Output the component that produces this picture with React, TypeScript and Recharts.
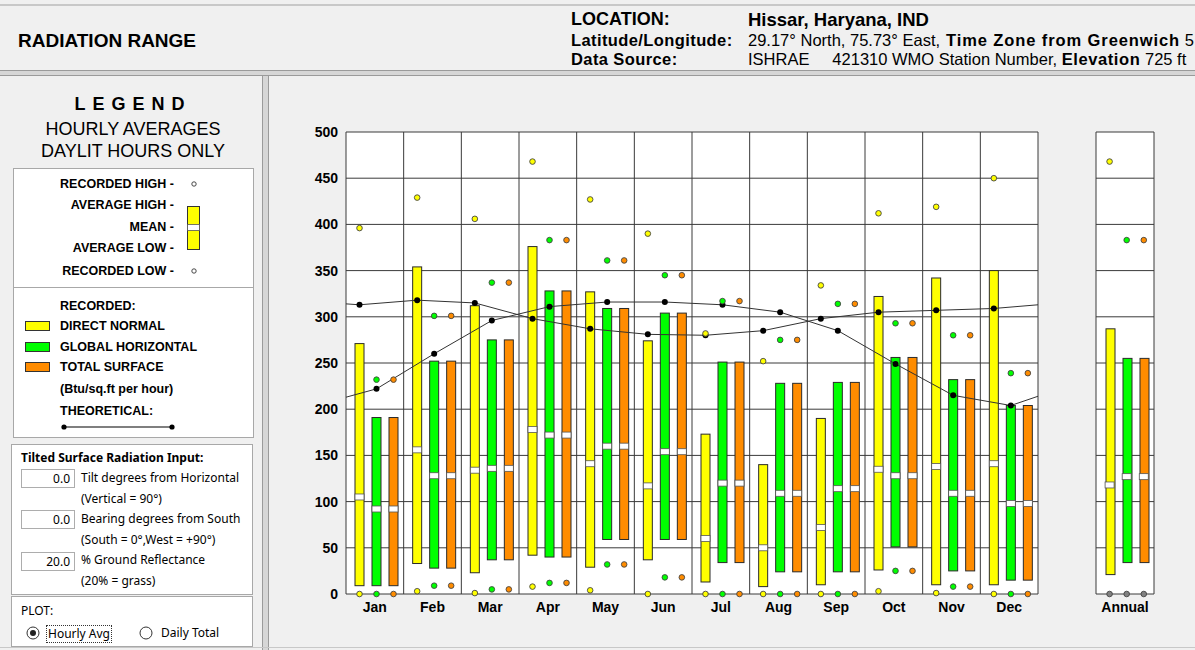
import React from "react";
import { ComposedChart, Bar, Scatter, XAxis, YAxis, CartesianGrid } from "recharts";

const FONT = '"Liberation Sans", Arial, sans-serif';
const UI_FONT = '"Noto Sans", "DejaVu Sans", sans-serif';

const months = ["Jan", "Feb", "Mar", "Apr", "May", "Jun", "Jul", "Aug", "Sep", "Oct", "Nov", "Dec"];
const yTicks = [0, 50, 100, 150, 200, 250, 300, 350, 400, 450, 500];

// direct normal (Btu/sq.ft per hour)
const dnAvgHigh = [271, 354, 312, 376, 327, 274, 173, 140, 190, 322, 342, 350];
const dnAvgLow = [9, 33, 23, 42, 29, 37, 13, 8, 10, 26, 10, 10];
const dnMean = [105, 156, 134, 178, 141, 117, 60, 50, 72, 135, 138, 141];
const dnRecHigh = [396, 429, 406, 468, 427, 390, 282, 252, 334, 412, 419, 450];
const dnRecLow = [0, 3, 1, 8, 4, 0, 0, 0, 0, 3, 1, 0];

// global horizontal
const ghAvgHigh = [191, 252, 275, 328, 309, 304, 251, 228, 229, 256, 232, 204];
const ghAvgLow = [9, 28, 37, 40, 59, 59, 34, 24, 24, 51, 25, 15];
const ghMean = [92, 128, 136, 172, 160, 154, 120, 109, 114, 128, 109, 98];
const ghRecHigh = [232, 301, 337, 383, 361, 345, 317, 275, 314, 293, 280, 239];
const ghRecLow = [0, 9, 5, 12, 32, 18, 0, 0, 0, 25, 8, 0];

// total surface (tilt 0)
const tsAvgHigh = [191, 252, 275, 328, 309, 304, 251, 228, 229, 256, 232, 204];
const tsAvgLow = [9, 28, 37, 40, 59, 59, 34, 24, 24, 51, 25, 15];
const tsMean = [92, 128, 136, 172, 160, 154, 120, 109, 114, 128, 109, 98];
const tsRecHigh = [232, 301, 337, 383, 361, 345, 317, 275, 314, 293, 280, 239];
const tsRecLow = [0, 9, 5, 12, 32, 18, 0, 0, 0, 25, 8, 0];

// theoretical curves, plus the values where they cross the plot edges
const dnTheo = [313, 318, 315, 298, 287, 281, 280, 285, 298, 305, 307, 309];
const dnTheoEdges = [314, 313];
const ghTheo = [222, 260, 296, 311, 316, 316, 313, 305, 285, 249, 215, 204];
const ghTheoEdges = [213, 214];

// annual: [direct normal, global horizontal, total surface]
const annualAvgHigh = [287, 255, 255];
const annualAvgLow = [21, 34, 34];
const annualMean = [118, 127, 127];
const annualRecHigh = [468, 383, 383];
const annualRecLow = [0, 0, 0];

const COLORS = ["#ffff00", "#00ff00", "#ff8c00"];
const GRID = "#3a3a3a";

const BAR = 9;
const GAP = 8;
const NUDGE = 2;
const BAND = 692 / 12;
const slot = (k: number) =>
  (Math.floor((BAND - (3 * BAR + 2 * GAP)) / 2) + NUDGE + k * (BAR + GAP) + BAR / 2) / BAND;

const monthData = months.map((m, i) => ({
  month: m,
  dn: [dnAvgLow[i], dnAvgHigh[i]],
  gh: [ghAvgLow[i], ghAvgHigh[i]],
  ts: [tsAvgLow[i], tsAvgHigh[i]],
}));

const annualData = [
  {
    month: "Annual",
    dn: [annualAvgLow[0], annualAvgHigh[0]],
    gh: [annualAvgLow[1], annualAvgHigh[1]],
    ts: [annualAvgLow[2], annualAvgHigh[2]],
  },
];

const at = (vals: number[], k: number) => vals.map((v, i) => ({ x: i + slot(k), y: v }));

const theoLine = (vals: number[], edges: number[], k: number) => [
  { x: 0, y: edges[0], edge: true },
  ...at(vals, k),
  { x: vals.length, y: edges[1], edge: true },
];

const barShape = (props: any) => {
  const { x, y, width, height, fill } = props;
  const top = Math.min(y, y + height);
  return (
    <rect x={x + NUDGE} y={top} width={width} height={Math.abs(height)} fill={fill} stroke="#2a2a2a" strokeWidth={1} />
  );
};

const meanShape = (props: any) => (
  <rect x={props.cx - BAR / 2} y={props.cy - 3} width={BAR} height={6} fill="#ffffff" stroke="#555" strokeWidth={0.8} />
);

const dotShape = (fill: string) => (props: any) => (
  <circle cx={props.cx} cy={props.cy} r={2.8} fill={fill} stroke="#444" strokeWidth={0.9} />
);

const theoDot = (props: any) =>
  props.payload && props.payload.edge ? <g /> : <circle cx={props.cx} cy={props.cy} r={3} fill="#000" />;

const tickStyle = { fontSize: 14, fontWeight: 700, fill: "#000", fontFamily: FONT };

function MonthlyChart() {
  const highs = [dnRecHigh, ghRecHigh, tsRecHigh];
  const lows = [dnRecLow, ghRecLow, tsRecLow];
  const means = [dnMean, ghMean, tsMean];
  const keys = ["dn", "gh", "ts"];
  return (
    <ComposedChart
      width={780}
      height={560}
      data={monthData}
      margin={{ top: 54, right: 12, left: 0, bottom: 14 }}
      barSize={BAR}
      barGap={GAP}
    >
      <XAxis xAxisId="cat" dataKey="month" type="category" interval={0} tickLine={false} axisLine={false} height={30} tick={tickStyle} />
      <XAxis xAxisId="num" dataKey="x" type="number" domain={[0, 12]} ticks={months.map((_, i) => i).concat(12)} allowDataOverflow hide />
      <YAxis yAxisId="v" type="number" domain={[0, 500]} ticks={yTicks} interval={0} width={76} tickLine={false} axisLine={false} tick={tickStyle} />
      <CartesianGrid xAxisId="num" yAxisId="v" stroke={GRID} strokeWidth={1} fill="#ffffff" />
      {keys.map((k, i) => (
        <Bar key={k} xAxisId="cat" yAxisId="v" dataKey={k} fill={COLORS[i]} shape={barShape} isAnimationActive={false} />
      ))}
      {means.map((m, i) => (
        <Scatter key={"m" + i} xAxisId="num" yAxisId="v" dataKey="y" data={at(m, i)} shape={meanShape} isAnimationActive={false} />
      ))}
      <Scatter xAxisId="num" yAxisId="v" dataKey="y" data={theoLine(dnTheo, dnTheoEdges, 0)} line={{ stroke: "#333", strokeWidth: 1 }} shape={theoDot} isAnimationActive={false} />
      <Scatter xAxisId="num" yAxisId="v" dataKey="y" data={theoLine(ghTheo, ghTheoEdges, 1)} line={{ stroke: "#333", strokeWidth: 1 }} shape={theoDot} isAnimationActive={false} />
      {highs.map((h, i) => (
        <Scatter key={"h" + i} xAxisId="num" yAxisId="v" dataKey="y" data={at(h, i).concat(at(lows[i], i))} shape={dotShape(COLORS[i])} isAnimationActive={false} />
      ))}
    </ComposedChart>
  );
}

function AnnualChart() {
  const keys = ["dn", "gh", "ts"];
  return (
    <ComposedChart
      width={80}
      height={560}
      data={annualData}
      margin={{ top: 54, right: 12, left: 10, bottom: 14 }}
      barSize={BAR}
      barGap={GAP}
    >
      <XAxis xAxisId="cat" dataKey="month" type="category" interval={0} tickLine={false} axisLine={false} height={30} tick={tickStyle} />
      <XAxis xAxisId="num" dataKey="x" type="number" domain={[0, 1]} ticks={[0, 1]} allowDataOverflow hide />
      <YAxis yAxisId="v" type="number" domain={[0, 500]} ticks={yTicks} hide />
      <CartesianGrid xAxisId="num" yAxisId="v" stroke={GRID} strokeWidth={1} fill="#ffffff" />
      {keys.map((k, i) => (
        <Bar key={k} xAxisId="cat" yAxisId="v" dataKey={k} fill={COLORS[i]} shape={barShape} isAnimationActive={false} />
      ))}
      {keys.map((k, i) => (
        <Scatter key={"m" + k} xAxisId="num" yAxisId="v" dataKey="y" data={[{ x: slot(i), y: annualMean[i] }]} shape={meanShape} isAnimationActive={false} />
      ))}
      {keys.map((k, i) => (
        <Scatter key={"h" + k} xAxisId="num" yAxisId="v" dataKey="y" data={[{ x: slot(i), y: annualRecHigh[i] }]} shape={dotShape(COLORS[i])} isAnimationActive={false} />
      ))}
      <Scatter xAxisId="num" yAxisId="v" dataKey="y" data={annualRecLow.map((v, i) => ({ x: slot(i), y: v }))} shape={dotShape("#808080")} isAnimationActive={false} />
    </ComposedChart>
  );
}

type TxtProps = {
  x: number;
  y: number;
  size: number;
  bold?: boolean;
  align?: "left" | "right" | "center";
  w?: number;
  family?: string;
  spacing?: number;
  children: React.ReactNode;
};

const Txt = ({ x, y, size, bold, align = "left", w = 400, family = FONT, spacing, children }: TxtProps) => (
  <div
    style={{
      position: "absolute",
      left: align === "right" ? x - w : align === "center" ? x - w / 2 : x,
      top: y - size * 0.6,
      width: w,
      height: size * 1.2,
      lineHeight: `${size * 1.2}px`,
      fontSize: size,
      fontWeight: bold ? 700 : 400,
      fontFamily: family,
      textAlign: align,
      whiteSpace: "nowrap",
      letterSpacing: spacing,
      color: "#000",
    }}
  >
    {children}
  </div>
);

const box = (left: number, top: number, width: number, height: number): React.CSSProperties => ({
  position: "absolute",
  left,
  top,
  width,
  height,
  background: "#ffffff",
  border: "1px solid #a8a8a8",
  boxSizing: "border-box",
});

const Input = ({ top, value }: { top: number; value: string }) => (
  <div
    style={{
      position: "absolute",
      left: 21,
      top,
      width: 54,
      height: 19,
      border: "1px solid #adadad",
      boxSizing: "border-box",
      background: "#fff",
      fontSize: 12,
      fontFamily: UI_FONT,
      textAlign: "right",
      paddingRight: 4,
      lineHeight: "17px",
    }}
  >
    {value}
  </div>
);

const Swatch = ({ y, color }: { y: number; color: string }) => (
  <div style={{ position: "absolute", left: 25, top: y - 5, width: 25, height: 10, background: color, border: "1px solid #333", boxSizing: "border-box" }} />
);

const wideBold: React.CSSProperties = { fontWeight: 700, letterSpacing: 0.9, marginLeft: 6 };

export default function App() {
  return (
    <div style={{ position: "absolute", left: 0, top: 0, width: 1195, height: 650, background: "#f0f0f0", overflow: "hidden", fontFamily: FONT }}>
      {/* header */}
      <div style={{ position: "absolute", left: 0, top: 4, width: 1195, height: 2, background: "#c8c8c8" }} />
      <Txt x={18} y={41} size={19} bold>RADIATION RANGE</Txt>
      <Txt x={571} y={20} size={18} bold>LOCATION:</Txt>
      <Txt x={748} y={20} size={18.5} bold>Hissar, Haryana, IND</Txt>
      <Txt x={571} y={41} size={16.5} bold spacing={0.4}>Latitude/Longitude:</Txt>
      <Txt x={748} y={41} size={16.5} w={446}>
        29.17° North, 75.73° East,<span style={wideBold}>Time Zone from Greenwich</span> 5
      </Txt>
      <Txt x={571} y={60} size={16.5} bold spacing={0.4}>Data Source:</Txt>
      <Txt x={748} y={60} size={16.5} w={446}>
        ISHRAE&nbsp;&nbsp;&nbsp;&nbsp; 421310 WMO Station Number, <span style={{ fontWeight: 700, letterSpacing: 0.6 }}>Elevation</span> 725 ft
      </Txt>
      <div style={{ position: "absolute", left: 0, top: 70, width: 1195, height: 6, background: "#d6d6d6", borderTop: "1px solid #9a9a9a", borderBottom: "1px solid #9a9a9a", boxSizing: "border-box" }} />
      <div style={{ position: "absolute", left: 262, top: 76, width: 7, height: 574, background: "#d6d6d6", borderLeft: "1px solid #9a9a9a", borderRight: "1px solid #9a9a9a", boxSizing: "border-box" }} />
      <div style={{ position: "absolute", left: 0, top: 647, width: 1195, height: 1, background: "#c8c8c8" }} />

      {/* legend panel */}
      <Txt x={133} y={105} size={18} bold align="center" w={250} spacing={7}>LEGEND</Txt>
      <Txt x={133} y={130} size={18} align="center" w={250}>HOURLY AVERAGES</Txt>
      <Txt x={133} y={152} size={18} align="center" w={250}>DAYLIT HOURS ONLY</Txt>

      <div style={box(13, 168, 241, 120)} />
      <Txt x={174} y={184} size={12.5} bold align="right" w={160}>RECORDED HIGH -</Txt>
      <Txt x={174} y={205} size={12.5} bold align="right" w={160}>AVERAGE HIGH -</Txt>
      <Txt x={174} y={227} size={12.5} bold align="right" w={160}>MEAN -</Txt>
      <Txt x={174} y={248} size={12.5} bold align="right" w={160}>AVERAGE LOW -</Txt>
      <Txt x={174} y={271} size={12.5} bold align="right" w={160}>RECORDED LOW -</Txt>
      <svg style={{ position: "absolute", left: 180, top: 176 }} width={30} height={102}>
        <circle cx={14} cy={8} r={2.2} fill="#fff" stroke="#333" strokeWidth={0.9} />
        <rect x={7.5} y={30.5} width={12} height={43} fill="#ffff00" stroke="#333" strokeWidth={1} />
        <rect x={7.5} y={48.5} width={12} height={6} fill="#fff" stroke="#555" strokeWidth={0.8} />
        <circle cx={14} cy={95} r={2.2} fill="#fff" stroke="#333" strokeWidth={0.9} />
      </svg>

      <div style={box(13, 287, 241, 151)} />
      <Txt x={60} y={306} size={12.5} bold>RECORDED:</Txt>
      <Swatch y={326} color={COLORS[0]} />
      <Txt x={60} y={326} size={12.5} bold>DIRECT NORMAL</Txt>
      <Swatch y={347} color={COLORS[1]} />
      <Txt x={60} y={347} size={12.5} bold>GLOBAL HORIZONTAL</Txt>
      <Swatch y={367} color={COLORS[2]} />
      <Txt x={60} y={367} size={12.5} bold>TOTAL SURFACE</Txt>
      <Txt x={60} y={389} size={12.5} bold>(Btu/sq.ft per hour)</Txt>
      <Txt x={60} y={411} size={12.5} bold>THEORETICAL:</Txt>
      <svg style={{ position: "absolute", left: 58, top: 421 }} width={120} height={12}>
        <line x1={6} y1={6} x2={114} y2={6} stroke="#000" strokeWidth={1.2} />
        <circle cx={6} cy={6} r={2.6} fill="#000" />
        <circle cx={114} cy={6} r={2.6} fill="#000" />
      </svg>

      {/* tilted surface input */}
      <div style={box(11, 444, 242, 151)} />
      <Txt x={21} y={458} size={12} bold family={UI_FONT}>Tilted Surface Radiation Input:</Txt>
      <Input top={469} value="0.0" />
      <Txt x={81} y={478} size={12} family={UI_FONT}>Tilt degrees from Horizontal</Txt>
      <Txt x={81} y={499} size={12} family={UI_FONT}>(Vertical = 90°)</Txt>
      <Input top={510} value="0.0" />
      <Txt x={81} y={519} size={12} family={UI_FONT}>Bearing degrees from South</Txt>
      <Txt x={81} y={540} size={12} family={UI_FONT}>(South = 0°,West = +90°)</Txt>
      <Input top={552} value="20.0" />
      <Txt x={81} y={560} size={12} family={UI_FONT}>% Ground Reflectance</Txt>
      <Txt x={81} y={581} size={12} family={UI_FONT}>(20% = grass)</Txt>

      <div style={box(11, 596, 242, 51)} />
      <Txt x={21} y={611} size={12} family={UI_FONT}>PLOT:</Txt>
      <svg style={{ position: "absolute", left: 26, top: 626 }} width={14} height={14}>
        <circle cx={7} cy={7} r={6} fill="#fff" stroke="#333" strokeWidth={1} />
        <circle cx={7} cy={7} r={3} fill="#222" />
      </svg>
      <div style={{ position: "absolute", left: 46, top: 625, height: 16, padding: "0 1px", border: "1px dotted #333", fontSize: 12, fontFamily: UI_FONT, lineHeight: "15px" }}>Hourly Avg</div>
      <svg style={{ position: "absolute", left: 139, top: 626 }} width={14} height={14}>
        <circle cx={7} cy={7} r={6} fill="#fff" stroke="#333" strokeWidth={1} />
      </svg>
      <Txt x={161} y={633} size={12} family={UI_FONT}>Daily Total</Txt>

      {/* chart panel */}
      <div style={{ position: "absolute", left: 270, top: 78 }}>
        <MonthlyChart />
      </div>
      <div style={{ position: "absolute", left: 1086, top: 78 }}>
        <AnnualChart />
      </div>
    </div>
  );
}
